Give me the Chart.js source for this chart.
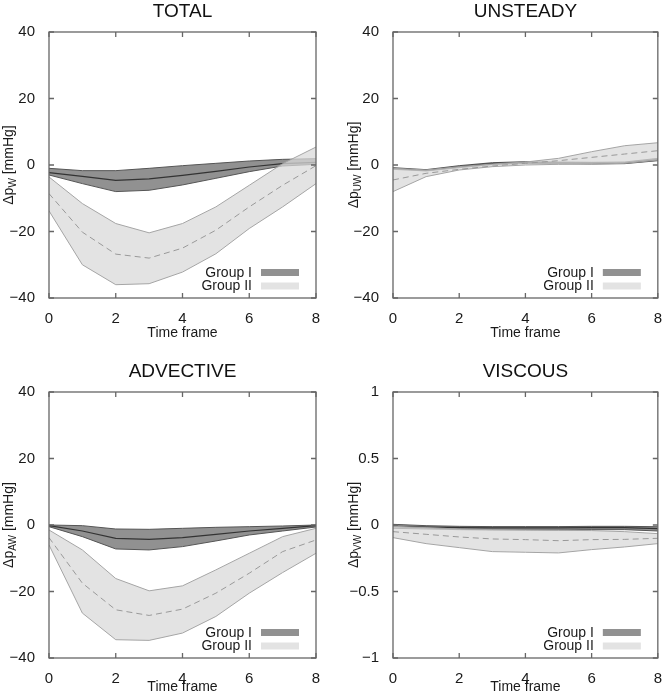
<!DOCTYPE html>
<html>
<head>
<meta charset="utf-8">
<script src="https://cdn.jsdelivr.net/npm/chart.js@4"></script>
<style>
  body { margin: 0; background: #fff; }
  #wrap { position: relative; width: 666px; height: 699px; }
  canvas { position: absolute; }
</style>
</head>
<body>
<div id="wrap">
  <canvas id="cTotal" width="333" height="350" style="left:0;top:0"></canvas>
  <canvas id="cUnsteady" width="333" height="350" style="left:333px;top:0"></canvas>
  <canvas id="cAdvective" width="333" height="349" style="left:0;top:350px"></canvas>
  <canvas id="cViscous" width="333" height="349" style="left:333px;top:350px"></canvas>
</div>
<script>
// time frames on the x axis
const frames = [0, 1, 2, 3, 4, 5, 6, 7, 8];
const groupLabels = ['Group I', 'Group II'];

// TOTAL
const totalG1Upper = [-1.0, -1.7, -1.7, -1.0, -0.2, 0.5, 1.2, 1.7, 1.9];
const totalG1Mean  = [-2.3, -3.4, -4.6, -4.2, -3.1, -1.9, -0.6, 0.4, 0.8];
const totalG1Lower = [-3.0, -5.6, -8.0, -7.6, -6.0, -4.0, -2.0, -0.3, 0.2];
const totalG2Upper = [-3.6, -11.6, -17.6, -20.4, -17.6, -12.6, -6.1, 0.4, 5.4];
const totalG2Mean  = [-8.6, -20.2, -26.8, -28.0, -25.0, -19.6, -12.6, -6.1, -0.2];
const totalG2Lower = [-13.8, -30.0, -36.0, -35.7, -32.2, -26.7, -19.1, -12.6, -5.6];

// UNSTEADY
const unsteadyG1Upper = [-0.8, -1.4, -0.2, 0.7, 1.0, 0.9, 0.8, 0.9, 2.0];
const unsteadyG1Mean  = [-1.05, -1.6, -0.5, 0.4, 0.75, 0.65, 0.55, 0.65, 1.65];
const unsteadyG1Lower = [-1.3, -1.8, -0.8, 0.1, 0.5, 0.4, 0.3, 0.4, 1.3];
const unsteadyG2Upper = [-1.0, -1.5, -0.5, 0.3, 0.9, 2.0, 4.0, 5.8, 6.7];
const unsteadyG2Mean  = [-4.5, -2.5, -1.3, -0.3, 0.5, 1.3, 2.3, 3.3, 4.3];
const unsteadyG2Lower = [-8.0, -3.5, -1.5, -0.5, 0.0, 0.2, 0.3, 0.5, 1.5];

// ADVECTIVE
const advG1Upper = [0.0, -0.2, -1.2, -1.3, -1.0, -0.7, -0.5, -0.3, 0.0];
const advG1Mean  = [-0.2, -1.8, -4.0, -4.3, -3.8, -2.8, -1.8, -1.0, -0.2];
const advG1Lower = [-0.5, -3.5, -7.2, -7.5, -6.5, -4.8, -3.0, -1.8, -0.6];
const advG2Upper = [-1.5, -7.5, -16.1, -19.8, -18.3, -13.5, -8.5, -3.5, -1.0];
const advG2Mean  = [-3.8, -17.5, -25.5, -27.2, -25.3, -20.5, -14.5, -8.0, -4.5];
const advG2Lower = [-6.0, -26.5, -34.5, -34.7, -32.5, -27.5, -20.5, -14.3, -8.5];

// VISCOUS
const viscG1Upper = [0.005, -0.005, -0.01, -0.012, -0.012, -0.012, -0.01, -0.01, -0.013];
const viscG1Mean  = [-0.01, -0.015, -0.02, -0.022, -0.022, -0.022, -0.02, -0.02, -0.028];
const viscG1Lower = [-0.025, -0.03, -0.035, -0.038, -0.038, -0.038, -0.035, -0.035, -0.045];
const viscG2Upper = [-0.01, -0.02, -0.03, -0.035, -0.038, -0.04, -0.042, -0.05, -0.065];
const viscG2Mean  = [-0.05, -0.07, -0.09, -0.105, -0.11, -0.118, -0.11, -0.108, -0.1];
const viscG2Lower = [-0.095, -0.14, -0.17, -0.2, -0.205, -0.21, -0.185, -0.165, -0.14];

const FONT = "'Liberation Sans', Arial, sans-serif";
const INK = '#1a1a1a';

// box frame with inward ticks on all four sides
const framePlugin = {
  id: 'frame',
  afterDatasetsDraw(chart) {
    const {ctx, chartArea: a, scales} = chart;
    ctx.save();
    ctx.strokeStyle = '#666';
    ctx.lineWidth = 1.3;
    ctx.strokeRect(a.left, a.top, a.right - a.left, a.bottom - a.top);
    ctx.beginPath();
    scales.x.ticks.forEach(t => {
      const px = scales.x.getPixelForValue(t.value);
      ctx.moveTo(px, a.bottom); ctx.lineTo(px, a.bottom - 5);
      ctx.moveTo(px, a.top); ctx.lineTo(px, a.top + 5);
    });
    scales.y.ticks.forEach(t => {
      const py = scales.y.getPixelForValue(t.value);
      ctx.moveTo(a.left, py); ctx.lineTo(a.left + 5, py);
      ctx.moveTo(a.right, py); ctx.lineTo(a.right - 5, py);
    });
    ctx.stroke();
    ctx.restore();
  }
};

// legend inside the plot, text first then swatch
const legendPlugin = {
  id: 'insideLegend',
  afterDraw(chart) {
    const {ctx, chartArea: a} = chart;
    const ds = chart.data.datasets;
    const rows = [[ds[0], a.bottom - 25.5], [ds[3], a.bottom - 12]];
    ctx.save();
    ctx.font = '14px ' + FONT;
    ctx.textAlign = 'right';
    ctx.textBaseline = 'middle';
    rows.forEach(([d, y]) => {
      ctx.fillStyle = INK;
      ctx.fillText(d.label, a.right - 64, y + 0.5);
      ctx.fillStyle = d.backgroundColor;
      ctx.fillRect(a.right - 55, y - 3.5, 38, 7);
    });
    ctx.restore();
  }
};

// rotated y title with subscript
const yLabelPlugin = {
  id: 'yLabel',
  afterDraw(chart, args, opts) {
    const {ctx, chartArea: a} = chart;
    const main = '\u0394p', sub = opts.sub, tail = ' [mmHg]';
    ctx.save();
    ctx.fillStyle = INK;
    ctx.textBaseline = 'middle';
    ctx.textAlign = 'left';
    ctx.font = '14px ' + FONT;
    const wMain = ctx.measureText(main).width, wTail = ctx.measureText(tail).width;
    ctx.font = '10px ' + FONT;
    const wSub = ctx.measureText(sub).width;
    const total = wMain + wSub + wTail;
    ctx.translate(opts.x, (a.top + a.bottom) / 2);
    ctx.rotate(-Math.PI / 2);
    let x = -total / 2;
    ctx.font = '14px ' + FONT;
    ctx.fillText(main, x, 0); x += wMain;
    ctx.font = '10px ' + FONT;
    ctx.fillText(sub, x, 4); x += wSub;
    ctx.font = '14px ' + FONT;
    ctx.fillText(tail, x, 0);
    ctx.restore();
  }
};

function makePanel(id, o) {
  const pts = arr => frames.map((t, i) => ({x: t, y: arr[i]}));
  new Chart(document.getElementById(id), {
    type: 'line',
    data: {datasets: [
      {label: groupLabels[0], data: pts(o.g1[0]), borderColor: '#555', borderWidth: 1, backgroundColor: '#919191', fill: '+1', order: 6},
      {label: 'Group I lower', data: pts(o.g1[2]), borderColor: '#555', borderWidth: 1, fill: false, order: 5},
      {label: 'Group I mean', data: pts(o.g1[1]), borderColor: '#333', borderWidth: 1.2, fill: false, order: 4},
      {label: groupLabels[1], data: pts(o.g2[0]), borderColor: '#a5a5a5', borderWidth: 1, backgroundColor: 'rgba(217,217,217,0.74)', fill: '+1', order: 3},
      {label: 'Group II lower', data: pts(o.g2[2]), borderColor: '#a5a5a5', borderWidth: 1, fill: false, order: 2},
      {label: 'Group II mean', data: pts(o.g2[1]), borderColor: '#999', borderWidth: 1, borderDash: [6, 4], fill: false, order: 1}
    ]},
    options: {
      responsive: false,
      animation: false,
      elements: {point: {radius: 0}, line: {tension: 0}},
      layout: {padding: {left: 0, right: o.padRight, top: 0, bottom: 0}},
      plugins: {
        legend: {display: false},
        tooltip: {enabled: false},
        title: {display: true, text: o.title, fullSize: false, color: '#111',
          font: {family: FONT, size: 19, weight: 'normal'},
          padding: {top: o.titleTop, bottom: 9.2}},
        yLabel: {sub: o.sub, x: o.labelX}
      },
      scales: {
        x: {
          type: 'linear', min: 0, max: 8,
          ticks: {stepSize: 2, padding: 4, color: INK, font: {family: FONT, size: 15}},
          grid: {display: false}, border: {display: false},
          title: {display: true, text: 'Time frame', color: INK, font: {family: FONT, size: 14},
            padding: {top: 0, bottom: o.xTitlePad}},
          afterFit(s) { s.height = o.xHeight; }
        },
        y: {
          min: o.yMin, max: o.yMax,
          ticks: {stepSize: o.yStep, padding: 6, color: INK, font: {family: FONT, size: 15},
            callback: v => String(v).replace('-', '\u2212')},
          grid: {display: false}, border: {display: false},
          afterFit(s) { s.width = o.yWidth; }
        }
      }
    },
    plugins: [framePlugin, legendPlugin, yLabelPlugin]
  });
}

makePanel('cTotal', {title: 'TOTAL', sub: 'W', labelX: 9, yWidth: 49, padRight: 17, titleTop: 0, xHeight: 52, xTitlePad: 8.6,
  yMin: -40, yMax: 40, yStep: 20,
  g1: [totalG1Upper, totalG1Mean, totalG1Lower], g2: [totalG2Upper, totalG2Mean, totalG2Lower]});
makePanel('cUnsteady', {title: 'UNSTEADY', sub: 'UW', labelX: 21, yWidth: 60, padRight: 7, titleTop: 0, xHeight: 52, xTitlePad: 8.6,
  yMin: -40, yMax: 40, yStep: 20,
  g1: [unsteadyG1Upper, unsteadyG1Mean, unsteadyG1Lower], g2: [unsteadyG2Upper, unsteadyG2Mean, unsteadyG2Lower]});
makePanel('cAdvective', {title: 'ADVECTIVE', sub: 'AW', labelX: 9, yWidth: 49, padRight: 17, titleTop: 10, xHeight: 41, xTitlePad: 3.6,
  yMin: -40, yMax: 40, yStep: 20,
  g1: [advG1Upper, advG1Mean, advG1Lower], g2: [advG2Upper, advG2Mean, advG2Lower]});
makePanel('cViscous', {title: 'VISCOUS', sub: 'VW', labelX: 21, yWidth: 60, padRight: 7, titleTop: 10, xHeight: 41, xTitlePad: 3.6,
  yMin: -1, yMax: 1, yStep: 0.5,
  g1: [viscG1Upper, viscG1Mean, viscG1Lower], g2: [viscG2Upper, viscG2Mean, viscG2Lower]});
</script>
</body>
</html>
